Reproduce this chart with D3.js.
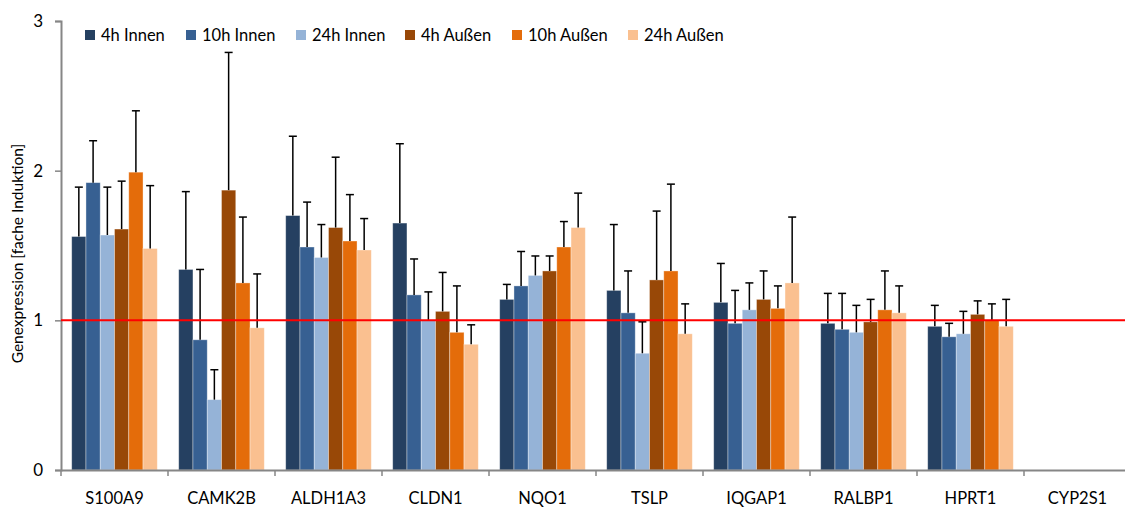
<!DOCTYPE html>
<html>
<head>
<meta charset="utf-8">
<script src="https://cdn.jsdelivr.net/npm/d3@7"></script>
<style>
  body { margin: 0; background: #fff; }
  text { font-family: Lato, "Open Sans", sans-serif; fill: #000; }
</style>
</head>
<body>
<div id="chart"></div>
<script>
const genes = ['S100A9', 'CAMK2B', 'ALDH1A3', 'CLDN1', 'NQO1', 'TSLP', 'IQGAP1', 'RALBP1', 'HPRT1', 'CYP2S1'];
const seriesNames = ['4h Innen', '10h Innen', '24h Innen', '4h Außen', '10h Außen', '24h Außen'];
const colors = ['#254061', '#376092', '#95B3D7', '#984807', '#E46C0A', '#FAC090'];

// mean values per series (null = no data)
const innen4h  = [1.56, 1.34, 1.70, 1.65, 1.14, 1.20, 1.12, 0.98, 0.96, null];
const innen10h = [1.92, 0.87, 1.49, 1.17, 1.23, 1.05, 0.98, 0.94, 0.89, null];
const innen24h = [1.57, 0.47, 1.42, 1.00, 1.30, 0.78, 1.07, 0.92, 0.91, null];
const aussen4h  = [1.61, 1.87, 1.62, 1.06, 1.33, 1.27, 1.14, 0.99, 1.04, null];
const aussen10h = [1.99, 1.25, 1.53, 0.92, 1.49, 1.33, 1.08, 1.07, 1.00, null];
const aussen24h = [1.48, 0.95, 1.47, 0.84, 1.62, 0.91, 1.25, 1.05, 0.96, null];

// upper end of error bars
const innen4hErr  = [1.89, 1.86, 2.23, 2.18, 1.24, 1.64, 1.38, 1.18, 1.10, null];
const innen10hErr = [2.20, 1.34, 1.79, 1.41, 1.46, 1.33, 1.20, 1.18, 0.98, null];
const innen24hErr = [1.89, 0.67, 1.64, 1.19, 1.43, 0.99, 1.25, 1.10, 1.06, null];
const aussen4hErr  = [1.93, 2.79, 2.09, 1.32, 1.43, 1.73, 1.33, 1.14, 1.13, null];
const aussen10hErr = [2.40, 1.69, 1.84, 1.23, 1.66, 1.91, 1.23, 1.33, 1.11, null];
const aussen24hErr = [1.90, 1.31, 1.68, 0.97, 1.85, 1.11, 1.69, 1.23, 1.14, null];

const yTicks = [0, 1, 2, 3];
const referenceLevel = 1;

const values = [innen4h, innen10h, innen24h, aussen4h, aussen10h, aussen24h];
const errors = [innen4hErr, innen10hErr, innen24hErr, aussen4hErr, aussen10hErr, aussen24hErr];

const width = 1125, height = 509;
const margin = { left: 61, right: 1131, top: 21, bottom: 470 };

const svg = d3.select('#chart').append('svg')
    .attr('width', width)
    .attr('height', height);

const x0 = d3.scaleBand().domain(genes).range([margin.left, margin.right])
    .paddingInner(0.2).paddingOuter(0.1);
const x1 = d3.scaleBand().domain(seriesNames).range([0, x0.bandwidth()]);
const y = d3.scaleLinear().domain([0, 3]).range([margin.bottom, margin.top]);

// bars
const data = [];
genes.forEach((g, i) => {
    seriesNames.forEach((s, j) => {
        if (values[j][i] != null) {
            data.push({ gene: g, series: s, idx: j, value: values[j][i], err: errors[j][i] });
        }
    });
});

svg.append('g').selectAll('rect')
    .data(data)
    .join('rect')
    .attr('x', d => x0(d.gene) + x1(d.series))
    .attr('y', d => y(d.value))
    .attr('width', x1.bandwidth())
    .attr('height', d => y(0) - y(d.value))
    .attr('fill', d => colors[d.idx])
    .attr('stroke', 'rgba(255,255,255,0.45)')
    .attr('stroke-width', 0.8);

// error bars (plus direction only)
const cx = d => x0(d.gene) + x1(d.series) + x1.bandwidth() / 2;
const eb = svg.append('g').attr('stroke', '#000').attr('stroke-width', 1.5);
eb.selectAll('line.v')
    .data(data)
    .join('line')
    .attr('class', 'v')
    .attr('x1', cx)
    .attr('x2', cx)
    .attr('y1', d => y(d.value))
    .attr('y2', d => y(d.err));
eb.selectAll('line.cap')
    .data(data)
    .join('line')
    .attr('class', 'cap')
    .attr('x1', d => cx(d) - 4)
    .attr('x2', d => cx(d) + 4)
    .attr('y1', d => y(d.err))
    .attr('y2', d => y(d.err));

// y axis
const yAxis = svg.append('g')
    .attr('transform', `translate(${margin.left},0)`)
    .call(d3.axisLeft(y).tickValues(yTicks).tickFormat(d3.format('d')).tickSizeOuter(0).tickSize(6).tickPadding(12));
yAxis.select('.domain').attr('stroke', '#868686').attr('stroke-width', 2);
yAxis.selectAll('.tick line').attr('stroke', '#868686').attr('stroke-width', 1.5);
yAxis.selectAll('.tick text').attr('font-size', 17).attr('font-family', 'Lato, sans-serif');

// x axis
const xAxis = svg.append('g')
    .attr('transform', `translate(0,${margin.bottom})`)
    .call(d3.axisBottom(x0).tickSize(0).tickSizeOuter(0).tickPadding(22));
xAxis.select('.domain').attr('stroke', '#868686').attr('stroke-width', 2);
xAxis.selectAll('.tick text').attr('font-size', 16.5).attr('font-family', 'Lato, sans-serif');

// x tick marks at category boundaries
const step = x0.step();
svg.append('g').selectAll('line')
    .data(genes)
    .join('line')
    .attr('x1', (g, i) => margin.left + i * step)
    .attr('x2', (g, i) => margin.left + i * step)
    .attr('y1', margin.bottom)
    .attr('y2', margin.bottom + 6)
    .attr('stroke', '#868686')
    .attr('stroke-width', 1.5);

// reference line at 1
svg.append('line')
    .attr('x1', margin.left)
    .attr('x2', width)
    .attr('y1', y(referenceLevel))
    .attr('y2', y(referenceLevel))
    .attr('stroke', '#FF0000')
    .attr('stroke-width', 2);

// y axis title
svg.append('text')
    .attr('transform', `translate(23,${(y(0) + y(3)) / 2 + 8}) rotate(-90)`)
    .attr('text-anchor', 'middle')
    .attr('font-size', 15.5)
    .text('Genexpression [fache Induktion]');

// legend
const legendX = [85, 186, 296, 405, 512, 628];
const legend = svg.append('g');
seriesNames.forEach((s, i) => {
    legend.append('rect')
        .attr('x', legendX[i]).attr('y', 30)
        .attr('width', 10).attr('height', 10)
        .attr('fill', colors[i]);
    legend.append('text')
        .attr('x', legendX[i] + 16).attr('y', 41)
        .attr('font-size', 16.5)
        .text(s);
});
</script>
</body>
</html>
